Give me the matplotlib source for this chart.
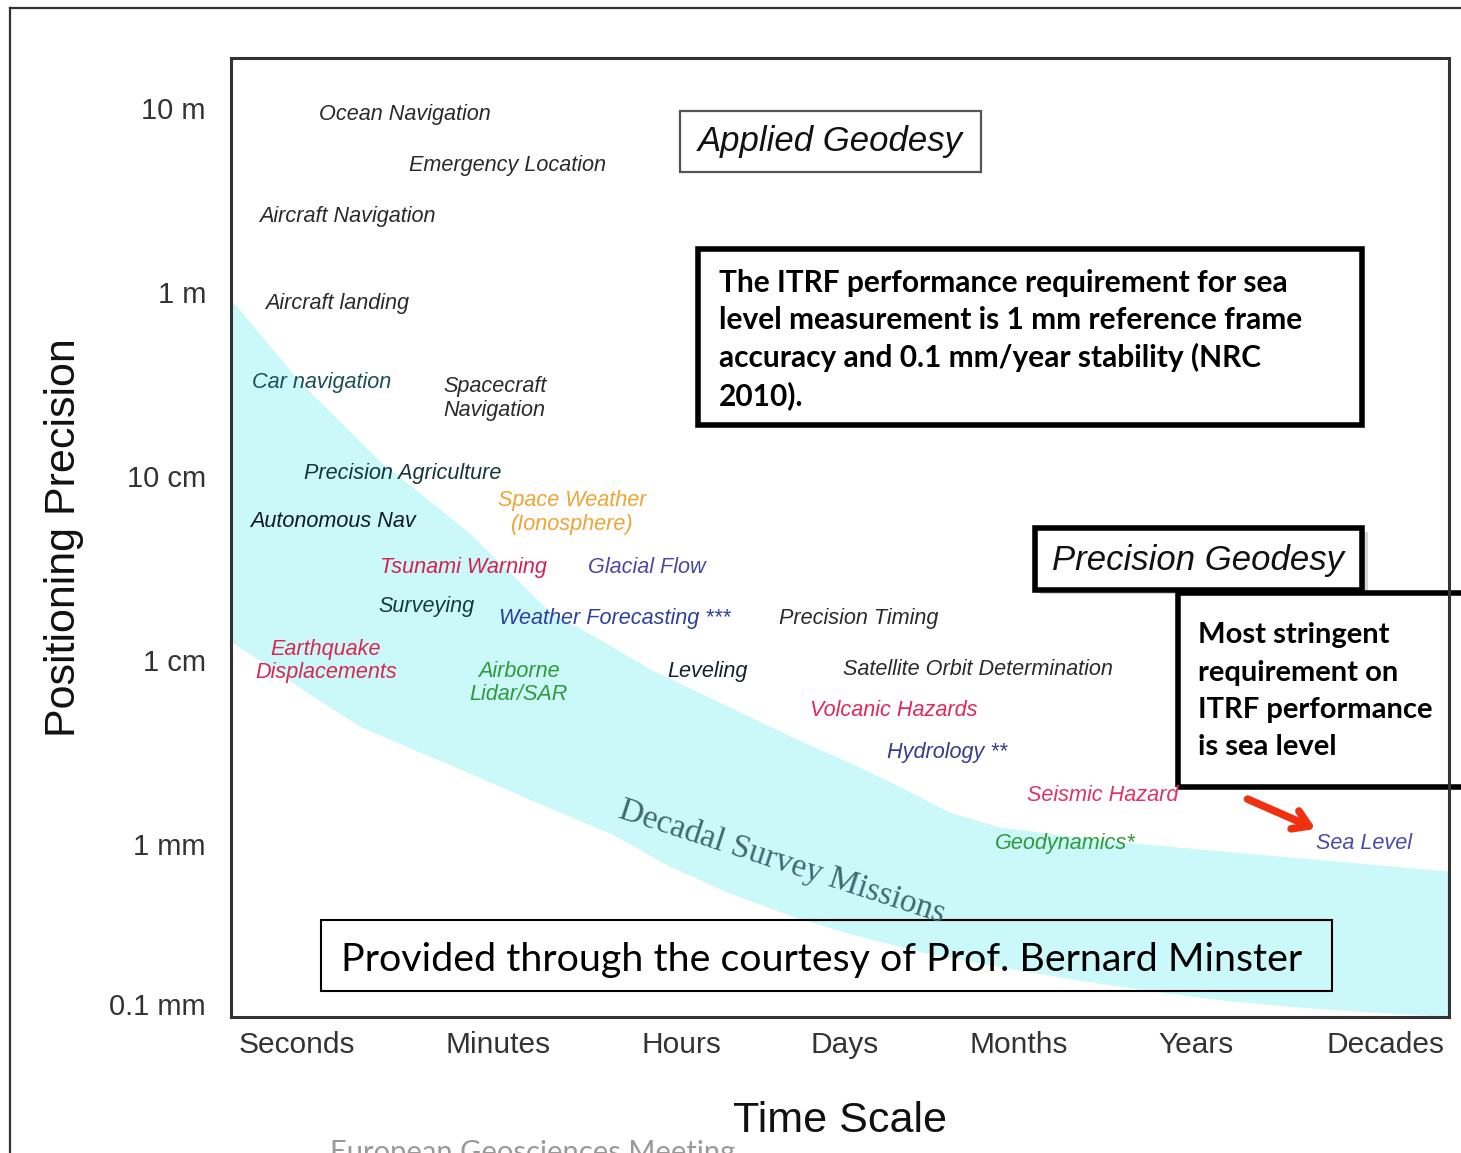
import matplotlib
matplotlib.use("Agg")
import matplotlib.pyplot as plt
from matplotlib.patches import Rectangle, Polygon
from matplotlib.lines import Line2D

plt.rcParams['font.family'] = ['Liberation Sans', 'DejaVu Sans']

# time scale categories (x positions in "category" units)
time_labels = ['Seconds', 'Minutes', 'Hours', 'Days', 'Months', 'Years', 'Decades']
time_pos = [0.0, 1.11, 2.12, 3.02, 3.98, 4.96, 6.0]

# precision ticks, log10(metres)
prec_labels = ['10 m', '1 m', '10 cm', '1 cm', '1 mm', '0.1 mm']
prec_pos = [1.0, 0.0, -1.0, -2.0, -3.0, -3.87]

# decadal survey missions band (time, log10 precision)
band_upper_t = [-0.364, 0.017, 0.458, 0.70, 0.95, 1.20, 1.395, 1.671, 1.947, 2.222, 2.498,
                2.774, 3.050, 3.325, 3.601, 3.877, 4.428, 4.980, 6.353]
band_upper_p = [-0.04, -0.49, -0.92, -1.11, -1.31, -1.55, -1.74, -1.89, -2.05, -2.18, -2.31,
                -2.44, -2.56, -2.69, -2.83, -2.91, -2.98, -3.03, -3.15]
band_lower_t = [-0.364, -0.15, 0.0, 0.2, 0.364, 0.65, 0.915, 1.285, 1.743, 2.05, 2.388,
                2.75, 3.050, 3.45, 3.877, 4.30, 4.704, 5.1, 5.531, 6.0, 6.353]
band_lower_p = [-1.90, -2.04, -2.14, -2.27, -2.37, -2.49, -2.60, -2.76, -2.95, -3.12,
                -3.27, -3.40, -3.49, -3.59, -3.67, -3.74, -3.80, -3.85, -3.89, -3.92, -3.94]

# applications: text, time position (left edge), precision, colour
apps = ['Ocean Navigation', 'Emergency Location', 'Aircraft Navigation', 'Aircraft landing',
        'Car navigation', 'Spacecraft\nNavigation', 'Precision Agriculture',
        'Autonomous Nav', 'Tsunami Warning', 'Glacial Flow', 'Surveying',
        'Weather Forecasting ***', 'Precision Timing', 'Leveling',
        'Satellite Orbit Determination', 'Volcanic Hazards', 'Hydrology **',
        'Seismic Hazard', 'Geodynamics*', 'Sea Level']
app_t = [0.121, 0.618, -0.210, -0.176, -0.248, 0.805, 0.039, -0.259, 0.458, 1.605, 0.447,
         1.114, 2.658, 2.040, 3.011, 2.829, 3.254, 4.026, 3.849, 5.620]
app_p = [0.967, 0.690, 0.408, -0.060, -0.489, -0.579, -0.984, -1.245, -1.495, -1.495, -1.707,
         -1.772, -1.772, -2.060, -2.054, -2.277, -2.505, -2.739, -3.0, -2.995]
app_col = ['#2a2a2a', '#2a2a2a', '#2a2a2a', '#2a2a2a', '#17505c', '#2a2a2a', '#14363c',
           '#101a2a', '#d4224f', '#4b4aa0', '#123c40', '#2e40a0', '#2a2a2a', '#112230',
           '#2a2a2a', '#e0285a', '#3b3a90', '#e23262', '#2e9a3a', '#4b4aa8']

# centred two-line applications
apps_c = ['Space Weather\n(Ionosphere)', 'Earthquake\nDisplacements', 'Airborne\nLidar/SAR']
app_c_t = [1.517, 0.160, 1.224]
app_c_p = [-1.198, -2.005, -2.125]
app_c_col = ['#f0a434', '#d8284f', '#2e9a3a']

fig = plt.figure(figsize=(14.61, 11.53), dpi=100)
ax = fig.add_axes([0.1581, 0.1180, 0.8337, 0.8317])
ax.set_xlim(-0.364, 6.353)
ax.set_ylim(-3.94, 1.272)

band = Polygon(list(zip(band_upper_t, band_upper_p)) + list(zip(band_lower_t[::-1], band_lower_p[::-1])),
               closed=True, facecolor='#cbf8f8', edgecolor='none', zorder=0)
ax.add_patch(band)

for name, t, p, c in zip(apps, app_t, app_p, app_col):
    ax.text(t, p, name, color=c, fontsize=15.6, style='italic', ha='left', va='center',
            linespacing=1.15)
for name, t, p, c in zip(apps_c, app_c_t, app_c_p, app_c_col):
    ax.text(t, p, name, color=c, fontsize=15.6, style='italic', ha='center', va='center',
            linespacing=1.15)

ax.text(2.675, -3.098, 'Decadal Survey Missions', family=['Liberation Serif'], fontsize=24,
        color='#3f6a70', rotation=-18, ha='center', va='center', rotation_mode='anchor')

# red arrow to sea level
ax.annotate('', xy=(5.631, -2.924), xytext=(5.228, -2.750),
            arrowprops=dict(arrowstyle='->, head_length=1.1, head_width=0.7',
                            color='#f0300f', lw=5.5))

# boxes (axes fraction)
ax.add_patch(Rectangle((0.3686, 0.8811), 0.2472, 0.0636, transform=ax.transAxes,
                       fill=False, edgecolor='#555555', lw=1.6))
ax.text(0.4918, 0.9124, 'Applied Geodesy', transform=ax.transAxes, fontsize=25,
        style='italic', ha='center', va='center', color='#111111')

ax.add_patch(Rectangle((0.3834, 0.6173), 0.5452, 0.1835, transform=ax.transAxes,
                       facecolor='white', edgecolor='black', lw=4))
ax.text(0.4007, 0.706, 'The ITRF performance requirement for sea\n'
        'level measurement is 1 mm reference frame\n'
        'accuracy and 0.1 mm/year stability (NRC\n2010).',
        transform=ax.transAxes, family=['Lato', 'DejaVu Sans'], fontweight='bold',
        fontsize=21.5, ha='left', va='center', linespacing=1.38)

ax.add_patch(Rectangle((0.6646, 0.4413), 0.2685, 0.0646, transform=ax.transAxes,
                       facecolor='#bbbbbb', edgecolor='none', alpha=0.6))
ax.add_patch(Rectangle((0.6601, 0.4453), 0.2685, 0.0646, transform=ax.transAxes,
                       facecolor='white', edgecolor='black', lw=4))
ax.text(0.7939, 0.4765, 'Precision Geodesy', transform=ax.transAxes, fontsize=25,
        style='italic', ha='center', va='center', color='#111111')

ax.add_patch(Rectangle((0.7775, 0.2398), 0.2438, 0.2023, transform=ax.transAxes,
                       fill=False, edgecolor='black', lw=4, clip_on=False))
ax.text(0.7939, 0.3394, 'Most stringent\nrequirement on\nITRF performance\nis sea level',
        transform=ax.transAxes, family=['Lato', 'DejaVu Sans'], fontweight='bold',
        fontsize=21, ha='left', va='center', linespacing=1.54)

ax.add_patch(Rectangle((0.0739, 0.0271), 0.83, 0.074, transform=ax.transAxes,
                       fill=False, edgecolor='black', lw=1.5))
ax.text(0.4852, 0.0594, 'Provided through the courtesy of Prof. Bernard Minster',
        transform=ax.transAxes, family=['Lato', 'DejaVu Sans'], fontsize=28.4,
        ha='center', va='center', color='black')

# axes styling
for s in ax.spines.values():
    s.set_color('#333333')
    s.set_linewidth(2.2)
ax.set_xticks(time_pos)
ax.set_xticklabels(time_labels, fontsize=21.5, color='#333333')
ax.set_yticks(prec_pos)
ax.set_yticklabels(prec_labels, fontsize=21, color='#333333')
ax.tick_params(axis='x', length=0, pad=10)
ax.tick_params(axis='y', length=0, pad=18)
ax.set_xlabel('Time Scale', fontsize=31, labelpad=30, color='#111111')
ax.set_ylabel('Positioning Precision', fontsize=31, labelpad=18, color='#111111')

# outer slide frame
fig.add_artist(Line2D([10 / 1461, 1.0], [1 - 8 / 1153, 1 - 8 / 1153], color='#333333', lw=1.6))
fig.add_artist(Line2D([10 / 1461, 10 / 1461], [0.0, 1 - 8 / 1153], color='#333333', lw=1.6))

# slide footer, cut by the bottom edge as in the original
fig.text(330 / 1461, 0.0, 'European Geosciences Meeting', fontsize=21, color='#999999',
         family=['Lato', 'DejaVu Sans'], ha='left', va='center')

fig.savefig('out.png', dpi=100)
